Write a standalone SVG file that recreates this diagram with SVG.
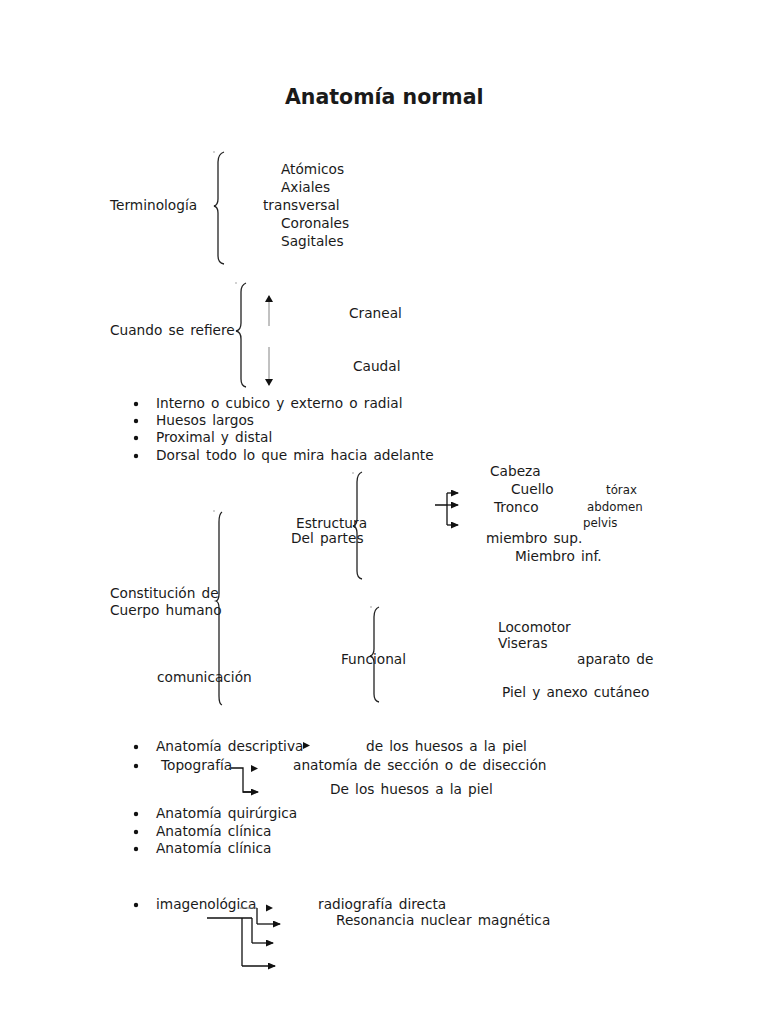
<svg xmlns="http://www.w3.org/2000/svg" width="768" height="1024" viewBox="0 0 768 1024">
<style>
text{font-family:"DejaVu Sans","Liberation Sans",sans-serif;font-size:13.7px;word-spacing:1.8px;fill:#1a1a1a}
.title{font-size:20.5px;font-weight:bold;word-spacing:0}
.sm{font-size:11.8px}
.brace{fill:none;stroke:#222;stroke-width:1.3}
.ln{fill:none;stroke:#111;stroke-width:1.3}
.thin{fill:none;stroke:#777;stroke-width:0.9}
.dot{fill:#999}
.bul{fill:#111}
.head{fill:#111}
</style>
<defs>
<marker id="ah" markerWidth="8" markerHeight="7" refX="7" refY="3.5" orient="auto" markerUnits="userSpaceOnUse">
<path d="M0,0 L8,3.5 L0,7 z" fill="#111"/>
</marker>
<marker id="ahs" markerWidth="7" markerHeight="8" refX="6" refY="4" orient="auto" markerUnits="userSpaceOnUse">
<path d="M0,0 L7,4 L0,8 z" fill="#111"/>
</marker>
</defs>
<rect width="768" height="1024" fill="#fff"/>

<g id="title"><text class="title" x="285" y="104">Anatomía normal</text></g>

<g id="terminologia">
<text x="110" y="210">Terminología</text>
<path class="brace" d="M224,152 Q218,154 218,162 L218,199 Q218,205 214,206 Q218,207 218,213 L218,256 Q218,263 224,264"/>
<circle class="dot" cx="214" cy="152" r="0.8"/>
<text x="281" y="174">Atómicos</text>
<text x="281" y="192">Axiales</text>
<text x="263" y="210">transversal</text>
<text x="281" y="228">Coronales</text>
<text x="281" y="246">Sagitales</text>
</g>

<g id="cuando">
<text x="110" y="335">Cuando se refiere</text>
<path class="brace" d="M246,283 Q241,285 241,292 L241,323 Q241,330 236,331 Q241,332 241,339 L241,379 Q241,386 246,387"/>
<circle class="dot" cx="236" cy="283" r="0.8"/>
<text x="349" y="318">Craneal</text>
<text x="353" y="371">Caudal</text>
</g>

<g id="bullets1">
<circle class="bul" cx="136" cy="404" r="2.2"/><text x="156" y="408">Interno o cubico y externo o radial</text>
<circle class="bul" cx="136" cy="421" r="2.2"/><text x="156" y="425">Huesos largos</text>
<circle class="bul" cx="136" cy="438" r="2.2"/><text x="156" y="442">Proximal y distal</text>
<circle class="bul" cx="136" cy="456" r="2.2"/><text x="156" y="460">Dorsal todo lo que mira hacia adelante</text>
</g>

<g id="constitucion">
<text x="110" y="598">Constitución de</text>
<text x="110" y="615">Cuerpo humano</text>
<text x="157" y="682">comunicación</text>
<path class="brace" d="M222,512 Q219,514 219,522 L219,594 Q219,600 216,601 Q219,602 219,608 L219,696 Q219,704 222,705"/>
<circle class="dot" cx="214" cy="511" r="0.8"/>
</g>

<g id="estructura">
<text x="296" y="528">Estructura</text>
<text x="291" y="543">Del partes</text>
<path class="brace" d="M362,472 Q357,474 357,482 L357,519 Q357,525 353,526 Q357,527 357,533 L357,571 Q357,578 362,579"/>
<circle class="dot" cx="353" cy="473" r="0.8"/>
<text x="490" y="476">Cabeza</text>
<text x="511" y="494">Cuello</text>
<text class="sm" x="606" y="494">tórax</text>
<text x="494" y="512">Tronco</text>
<text class="sm" x="587" y="511">abdomen</text>
<text class="sm" x="583" y="527">pelvis</text>
<text x="486" y="543">miembro sup.</text>
<text x="515" y="561">Miembro inf.</text>
</g>

<g id="funcional">
<text x="341" y="664">Funcional</text>
<path class="brace" d="M379,607 Q374,609 374,617 L374,649 Q374,655 370,656 Q374,657 374,663 L374,694 Q374,701 379,702"/>
<circle class="dot" cx="371" cy="607" r="0.8"/>
<text x="498" y="632">Locomotor</text>
<text x="498" y="648">Viseras</text>
<text x="577" y="664">aparato de</text>
<text x="502" y="697">Piel y anexo cutáneo</text>
</g>

<g id="bullets2">
<circle class="bul" cx="136" cy="747" r="2.2"/><text x="156" y="751">Anatomía descriptiva</text>
<text x="366" y="751">de los huesos a la piel</text>
<circle class="bul" cx="136" cy="766" r="2.2"/><text x="161" y="770">Topografía</text>
<text x="293" y="770">anatomía de sección o de disección</text>
<text x="330" y="794">De los huesos a la piel</text>
<circle class="bul" cx="136" cy="814" r="2.2"/><text x="156" y="818">Anatomía quirúrgica</text>
<circle class="bul" cx="136" cy="832" r="2.2"/><text x="156" y="836">Anatomía clínica</text>
<circle class="bul" cx="136" cy="849" r="2.2"/><text x="156" y="853">Anatomía clínica</text>
<circle class="bul" cx="136" cy="905" r="2.2"/><text x="156" y="909">imagenológica</text>
<text x="318" y="909">radiografía directa</text>
<text x="336" y="925">Resonancia nuclear magnética</text>
</g>

<g id="connectors">
<line class="thin" x1="269" y1="326" x2="269" y2="296" marker-end="url(#ahs)"/>
<line class="thin" x1="269" y1="347" x2="269" y2="385" marker-end="url(#ahs)"/>

<path class="ln" d="M435,505 L447,505 M447,493 L447,525"/>
<line class="ln" x1="447" y1="493" x2="458" y2="493" marker-end="url(#ah)"/>
<line class="ln" x1="447" y1="505" x2="458" y2="505" marker-end="url(#ah)"/>
<line class="ln" x1="447" y1="525" x2="458" y2="525" marker-end="url(#ah)"/>

<polygon class="head" points="303,742 310,745.5 303,749"/>

<path class="ln" d="M231,768 L243,768 L243,792 L251,792"/>
<line class="ln" x1="243" y1="792" x2="258" y2="792" marker-end="url(#ah)"/>
<polygon class="head" points="251,765 258,768.5 251,772"/>

<line class="thin" x1="240" y1="908" x2="257" y2="908"/>
<polygon class="head" points="266,904.5 273,908 266,911.5"/>
<path class="ln" d="M207,918 L252,918 M257,908 L257,924 M252,918 L252,943 M242,918 L242,966"/>
<line class="ln" x1="257" y1="924" x2="280" y2="924" marker-end="url(#ah)"/>
<line class="ln" x1="252" y1="943" x2="273" y2="943" marker-end="url(#ah)"/>
<line class="ln" x1="242" y1="966" x2="275" y2="966" marker-end="url(#ah)"/>
</g>
</svg>
